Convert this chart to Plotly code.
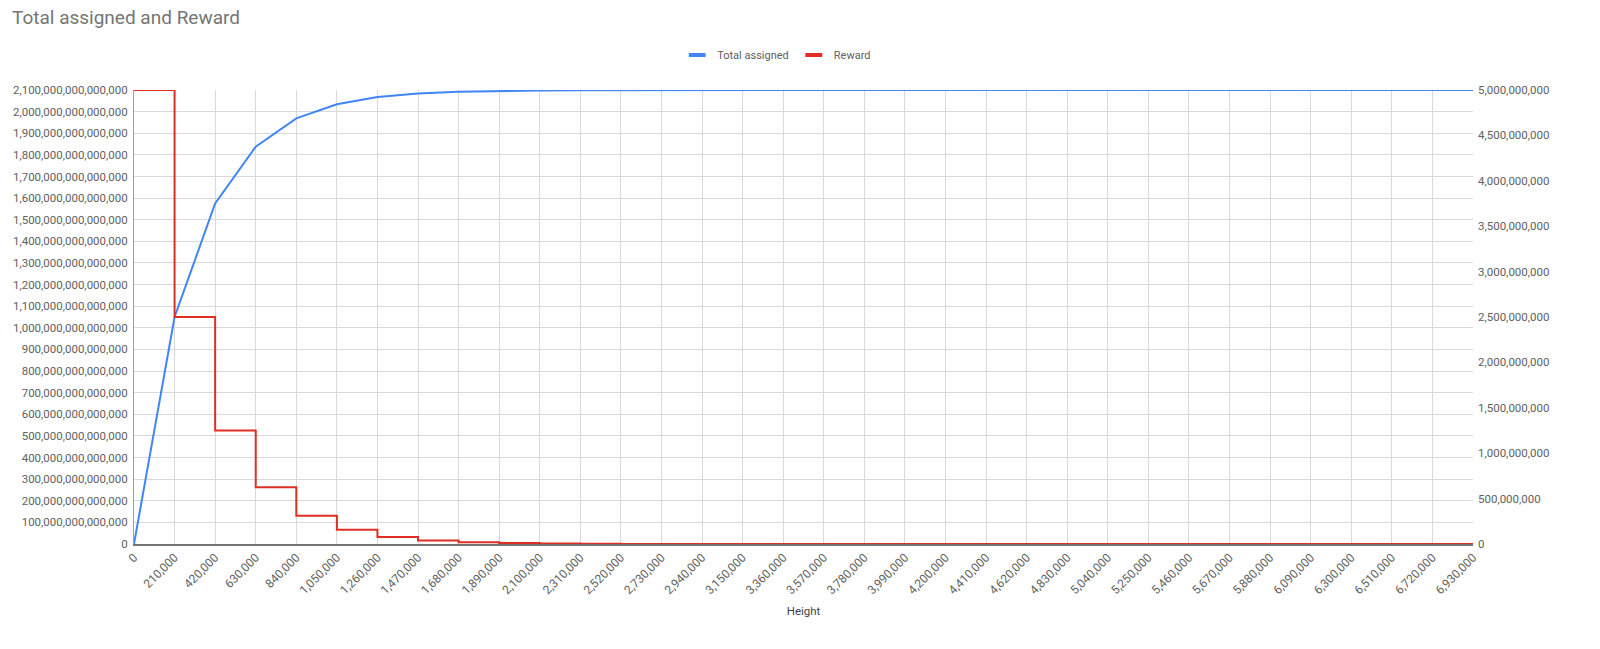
import plotly.graph_objects as go

# === Data ===
height = [i * 210000 for i in range(34)]  # halving heights 0 .. 6,930,000

total_assigned = [
    0, 1050000000000000, 1575000000000000, 1837500000000000, 1968750000000000,
    2034375000000000, 2067187500000000, 2083593750000000, 2091796875000000,
    2095898437500000, 2097949218750000, 2098974609270000, 2099487304530000,
    2099743652160000, 2099871825870000, 2099935912620000, 2099967955890000,
    2099983977420000, 2099991988080000, 2099995993410000, 2099997995970000,
    2099998997250000, 2099999497890000, 2099999748210000, 2099999873370000,
    2099999935950000, 2099999967240000, 2099999982780000, 2099999990550000,
    2099999994330000, 2099999996220000, 2099999997060000, 2099999997480000,
    2099999997690000,
]

reward = [
    5000000000, 2500000000, 1250000000, 625000000, 312500000, 156250000,
    78125000, 39062500, 19531250, 9765625, 4882812, 2441406, 1220703,
    610351, 305175, 152587, 76293, 38146, 19073, 9536, 4768, 2384, 1192,
    596, 298, 149, 74, 37, 18, 9, 4, 2, 1, 0,
]

font_family = "Roboto, Arial, sans-serif"
tick_color = "#616161"
blue = "#4285F4"
red = "#DF2F22"

fig = go.Figure()

fig.add_trace(go.Scatter(
    x=height, y=total_assigned, name="Total assigned", showlegend=False,
    mode="lines", line=dict(color=blue, width=2)))

fig.add_trace(go.Scatter(
    x=height, y=reward, name="Reward", yaxis="y2", showlegend=False,
    mode="lines", line=dict(color=red, width=2, shape="hv")))

# short bar legend swatches, like the sheets legend
for name, col in [("Total assigned", blue), ("Reward", red)]:
    fig.add_trace(go.Scatter(
        x=[None], y=[None], name=name, mode="markers",
        marker=dict(symbol="line-ew-open", size=12, color=col, line=dict(width=4, color=col))))

fig.update_layout(
    width=1600, height=649,
    paper_bgcolor="white", plot_bgcolor="white",
    font=dict(family=font_family, size=11, color=tick_color),
    title=dict(text="Total assigned and Reward", x=0.0075, xanchor="left",
               y=0.973, yanchor="middle",
               font=dict(size=19, color="#757575", family=font_family)),
    margin=dict(l=134, r=127, t=90, b=105),
    showlegend=True,
    legend=dict(orientation="h", x=0.48, xanchor="center", y=1.077, yanchor="middle",
                font=dict(size=11, color="#616161"), itemwidth=30),
    xaxis=dict(
        range=[0, 6930000], tick0=0, dtick=210000, tickformat=",d",
        tickangle=-45, showgrid=True, gridcolor="#d9d9d9", gridwidth=1,
        showline=True, linecolor="#757575", linewidth=1.5, automargin=False,
        zeroline=False, ticks="", tickfont=dict(size=12, color=tick_color),
        title=dict(text="Height", font=dict(size=11.5, color="#424242"), standoff=11),
    ),
    yaxis=dict(
        range=[0, 2100000000000000], tick0=0, dtick=100000000000000,
        tickformat=",d", showgrid=True, gridcolor="#d9d9d9", gridwidth=1,
        zeroline=False, showline=True, linecolor="#9e9e9e", linewidth=1,
        automargin=False, ticks="", ticklabelstandoff=3,
        tickfont=dict(size=11.5, color=tick_color),
    ),
    yaxis2=dict(
        range=[0, 5000000000], tick0=0, dtick=500000000, tickformat=",d",
        overlaying="y", side="right", showgrid=False, zeroline=False,
        automargin=False, ticks="", ticklabelstandoff=4,
        tickfont=dict(size=11.5, color=tick_color),
    ),
)

# drop the default body margin so the 1600x649 figure fills the window exactly
fig.write_html("out.html", config={"displayModeBar": False},
               post_script="document.body.style.margin='0';")
